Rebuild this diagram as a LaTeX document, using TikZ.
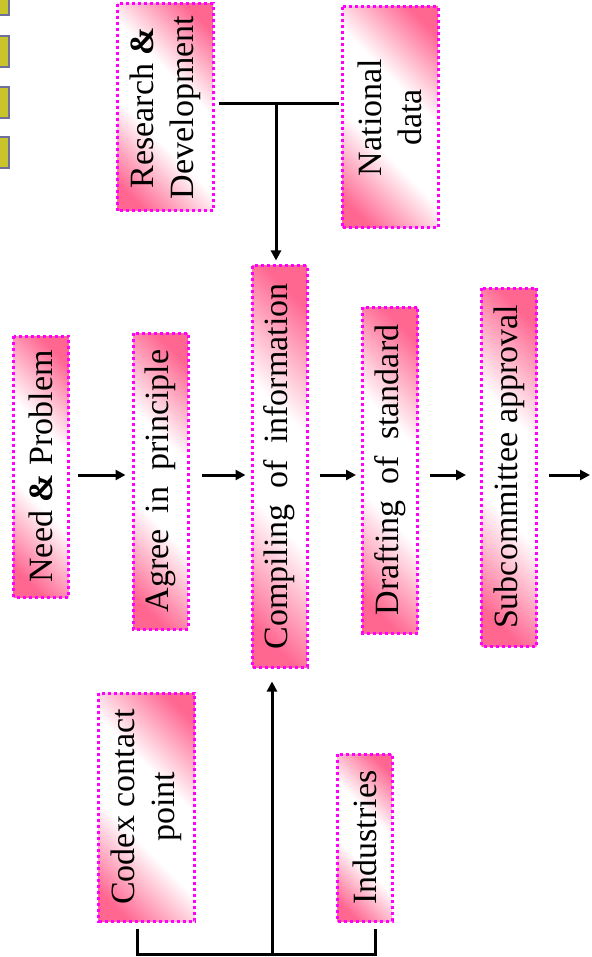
\documentclass[tikz,border=0pt]{standalone}
\usepackage{fontspec}
\setmainfont{Liberation Serif}
\usetikzlibrary{arrows.meta}

% Colours and the pink band shading
\definecolor{fillColour}{HTML}{FF6690}
\pgfdeclareverticalshading{pinkband}{100bp}{color(0bp)=(fillColour); color(21bp)=(fillColour);
    color(41bp)=(white); color(59bp)=(white); color(79bp)=(fillColour); color(100bp)=(fillColour)}

\newcommand{\wsp}{\hspace{16pt}}
\newcommand{\amp}{\textbf{\&}}

\begin{document}
\begin{tikzpicture}[x=1pt, y=-1pt]
    % Define colours
    \definecolor{borderColour}{HTML}{FF00FF}
    \definecolor{bulletColour}{HTML}{C9C42A}
    \definecolor{bulletBorder}{HTML}{6F6F9E}

    % Styles
    \tikzset{
        stage/.style={rotate=90, draw=borderColour, line width=3pt,
            dash pattern=on 3pt off 3pt,
            shading=pinkband, shading angle=-45, inner sep=0pt, align=center,
            font=\fontsize{34}{40}\selectfont},
        oneline/.style={stage, minimum height=55pt},
        twoline/.style={stage, minimum height=96pt},
        link/.style={line width=3pt},
        flow/.style={link, -{Triangle[length=10pt,width=10pt]}},
    }

    % Fix the page size
    \useasboundingbox (0,0) rectangle (591,957);

    % Draw bullets
    \foreach \y in {-16,36,87,137}
        \draw[fill=bulletColour, draw=bulletBorder, line width=1.5pt] (-5,\y) rectangle (9,\y+31);

    % Main stages
    \node[oneline, minimum width=261pt] (need)  at (41,466.5)  {Need \amp{} Problem};
    \node[oneline, minimum width=296pt] (agree) at (160.5,481) {Agree\wsp in\wsp principle};
    \node[oneline, minimum width=401pt] (comp)  at (279.5,466.5) {Compiling\wsp of\wsp information};
    \node[oneline, minimum width=326pt] (draft) at (390,470)   {Drafting\wsp of\wsp standard};
    \node[oneline, minimum width=358pt] (sub)   at (509,467)   {Subcommittee approval};

    % Sources above
    \node[twoline, minimum width=207pt] (res) at (165,107.5) {Research \amp\\Development};
    \node[twoline, minimum width=221pt] (nat) at (390,117.5) {National\\data};

    % Sources below
    \node[twoline, minimum width=228pt] (codex) at (146.5,807) {Codex contact\\point};
    \node[oneline, minimum width=167pt] (ind)   at (364.5,837.5) {Industries};

    % Arrow row and joins
    \coordinate (row) at (0,475);
    \coordinate (topjoin) at (276,104);
    \coordinate (botjoin) at (272,954);
    \coordinate (out) at (590,475);

    % Draw main arrows
    \draw[flow, shorten <=8pt, shorten >=6pt] (need.south |- row) -- (agree.north |- row);
    \draw[flow, shorten <=12pt, shorten >=5pt] (agree.south |- row) -- (comp.north |- row);
    \draw[flow, shorten <=11pt, shorten >=5pt] (comp.south |- row) -- (draft.north |- row);
    \draw[flow, shorten <=11pt, shorten >=14pt] (draft.south |- row) -- (sub.north |- row);
    \draw[flow, shorten <=11pt] (sub.south |- row) -- (out);

    % Draw top connector
    \draw[link, shorten <=4pt, shorten >=2pt] (res.south |- topjoin) -- (nat.north |- topjoin);
    \draw[flow, shorten >=4pt] (topjoin) -- (topjoin |- comp.east);

    % Draw bottom connector
    \draw[link] ([xshift=-9.5pt, yshift=-6pt]codex.west) |- (botjoin)
        -| ([xshift=10.5pt, yshift=-6pt]ind.west);
    \draw[flow, shorten >=13pt] (botjoin) -- (botjoin |- comp.west);

\end{tikzpicture}
\end{document}
